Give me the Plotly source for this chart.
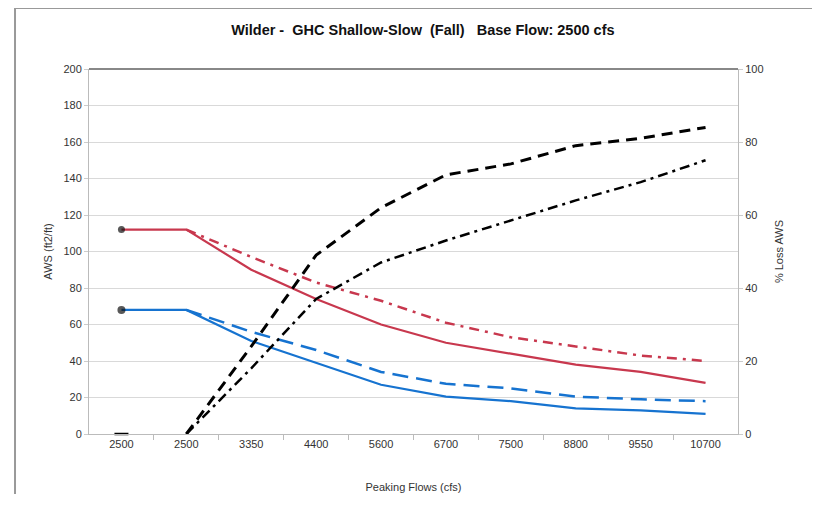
import plotly.graph_objects as go

# Data
flow_labels = ["2500", "2500", "3350", "4400", "5600", "6700", "7500", "8800", "9550", "10700"]
x_idx = list(range(len(flow_labels)))

aws_red = [112, 112, 90, 74, 60, 50, 44, 38, 34, 28]
aws_red_alt = [None, 112, 97, 83, 73, 61, 53, 48, 43, 40]
aws_blue = [68, 68, 51, 39, 27, 20.5, 18, 14, 13, 11]
aws_blue_alt = [None, 68, 56, 46, 34, 27.5, 25, 20.5, 19, 18]

loss_dash = [None, 0, 24, 49, 62, 71, 74, 79, 81, 84]
loss_dashdot = [None, 0, 18, 37, 47, 53, 58.5, 64, 69, 75]

RED = "#C8384E"
BLUE = "#1673D0"

fig = go.Figure()

fig.add_trace(go.Scatter(x=x_idx, y=aws_red_alt, mode="lines",
                         line=dict(color=RED, width=2.5, dash="10px,6px,3px,6px")))
fig.add_trace(go.Scatter(x=x_idx, y=aws_red, mode="lines",
                         line=dict(color=RED, width=2.2)))
fig.add_trace(go.Scatter(x=x_idx, y=aws_blue_alt, mode="lines",
                         line=dict(color=BLUE, width=2.5, dash="16px,8px")))
fig.add_trace(go.Scatter(x=x_idx, y=aws_blue, mode="lines",
                         line=dict(color=BLUE, width=2.2)))

# starting points
fig.add_trace(go.Scatter(x=[x_idx[0], x_idx[0]], y=[aws_red[0], aws_blue[0]], mode="markers",
                         marker=dict(color="#111", size=[7, 8], line=dict(width=0))))

fig.add_trace(go.Scatter(x=x_idx, y=loss_dash, mode="lines", yaxis="y2",
                         line=dict(color="black", width=3, dash="11px,7px")))
fig.add_trace(go.Scatter(x=x_idx, y=loss_dashdot, mode="lines", yaxis="y2",
                         line=dict(color="black", width=2.5, dash="10px,5px,3px,5px")))
fig.add_trace(go.Scatter(x=[x_idx[0]], y=[0], mode="markers", yaxis="y2", cliponaxis=False,
                         marker=dict(symbol="line-ew", size=10, line=dict(color="black", width=2.5))))

font = "Liberation Sans, Arial, sans-serif"

fig.update_layout(
    width=804, height=486,
    margin=dict(l=81, r=74, t=61, b=60, autoexpand=False),
    paper_bgcolor="white", plot_bgcolor="white",
    showlegend=False,
    font=dict(family=font, size=11, color="#333"),
    title=dict(text="<b>Wilder -  GHC Shallow-Slow  (Fall)   Base Flow: 2500 cfs</b>",
               x=0.516, xanchor="center", y=0.955, yanchor="middle",
               font=dict(size=14.5, color="#111")),
    xaxis=dict(
        range=[-0.5, 9.5], tickmode="array", tickvals=x_idx, ticktext=flow_labels,
        ticks="", showgrid=False, zeroline=False, automargin=False,
        showline=True, linecolor="#bbb", linewidth=1,
        minor=dict(tickmode="array", tickvals=[i + 0.5 for i in x_idx[:-1]],
                   ticks="outside", ticklen=5, tickcolor="#bbb", showgrid=False),
        title=dict(text="Peaking Flows (cfs)", font=dict(size=11, color="#333"), standoff=34),
        tickfont=dict(size=11, color="#333"),
    ),
    yaxis=dict(
        range=[0, 200], dtick=20, showgrid=True, gridcolor="#d9d9d9", gridwidth=1,
        zeroline=False, showline=True, linecolor="#bbb", ticks="outside", ticklen=4,
        tickcolor="#ccc", automargin=False,
        title=dict(text="AWS (ft2/ft)", font=dict(size=11, color="#333"), standoff=8),
        tickfont=dict(size=11, color="#333"),
    ),
    yaxis2=dict(
        range=[0, 100], dtick=20, overlaying="y", side="right", showgrid=False,
        zeroline=False, showline=True, linecolor="#bbb", ticks="outside", ticklen=4,
        tickcolor="#ccc", automargin=False,
        title=dict(text="% Loss AWS", font=dict(size=11, color="#333"), standoff=12),
        tickfont=dict(size=11, color="#333"),
    ),
    shapes=[
        dict(type="line", xref="paper", yref="paper", x0=0, x1=1, y0=1, y1=1,
             line=dict(color="#888", width=2)),
        # outer chart frame (left and top edges)
        dict(type="line", xref="paper", yref="paper", x0=-0.114, x1=-0.114, y0=-0.2, y1=1.167,
             line=dict(color="#999", width=2), layer="below"),
        dict(type="line", xref="paper", yref="paper", x0=-0.114, x1=1.3, y0=1.167, y1=1.167,
             line=dict(color="#999", width=2), layer="below"),
    ],
)

fig.write_html("out.html")
